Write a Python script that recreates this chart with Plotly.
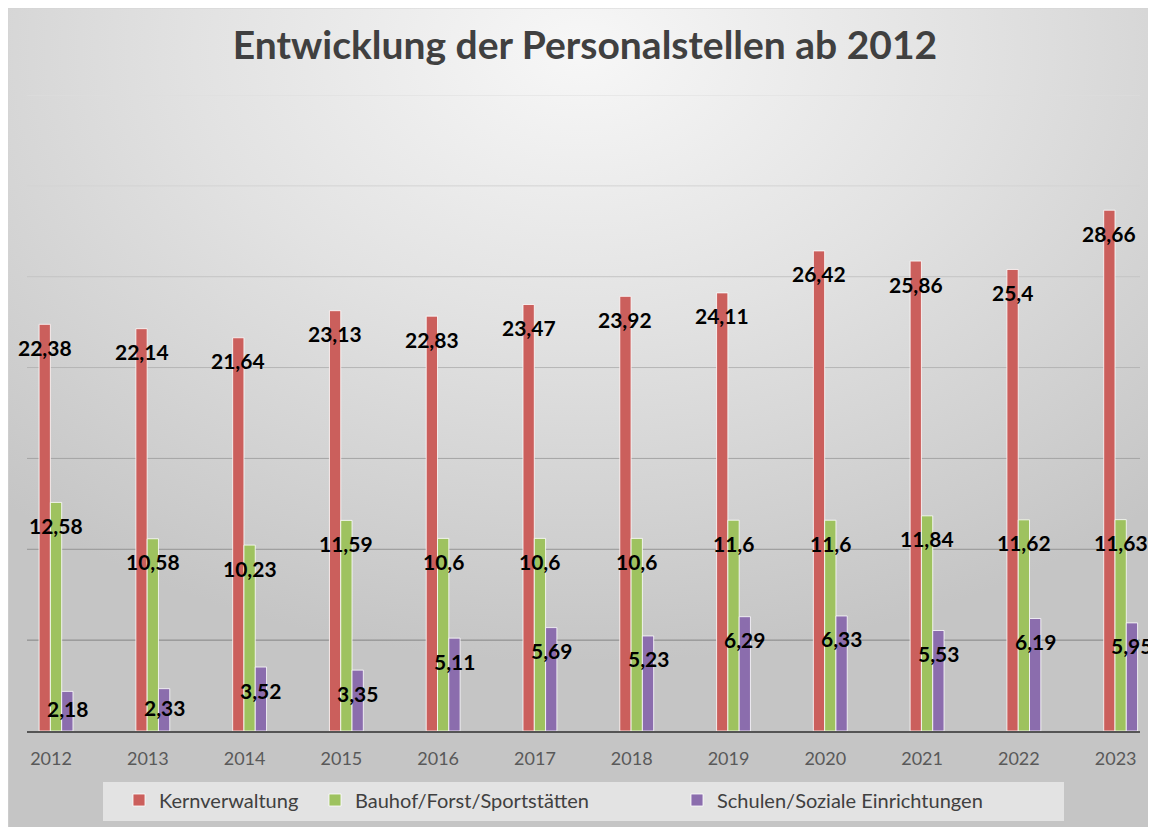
import base64
import plotly.graph_objects as go

years = ["2012", "2013", "2014", "2015", "2016", "2017", "2018", "2019", "2020", "2021", "2022", "2023"]
kernverwaltung = [22.38, 22.14, 21.64, 23.13, 22.83, 23.47, 23.92, 24.11, 26.42, 25.86, 25.4, 28.66]
bauhof = [12.58, 10.58, 10.23, 11.59, 10.6, 10.6, 10.6, 11.6, 11.6, 11.84, 11.62, 11.63]
schulen = [2.18, 2.33, 3.52, 3.35, 5.11, 5.69, 5.23, 6.29, 6.33, 5.53, 6.19, 5.95]
series_names = ["Kernverwaltung", "Bauhof/Forst/Sportstätten", "Schulen/Soziale Einrichtungen"]
colors = ["#CB5F5C", "#9EC25F", "#8B6DAD"]

OFF = 8  # page body margin
W, H = 1156 - OFF, 827 - OFF
# plot area in screen coordinates: 27..1140 x, 95..731 y
ML, MT = 27 - OFF, 95 - OFF
MR, MB = W - (1140 - OFF), H - (731 - OFF)
PW, PH = W - ML - MR, H - MT - MB
YMAX = 35
PPU = PH / YMAX
BARGAP = 0.65


def px_x(sx):
    return (sx - OFF - ML) / PW


def px_y(sy):
    return 1 - (sy - OFF - MT) / PH


xpos = list(range(len(years)))
fig = go.Figure()
all_series = [kernverwaltung, bauhof, schulen]
legends = ["legend", "legend2", "legend3"]
for name, vals, col, lg in zip(series_names, all_series, colors, legends):
    fig.add_trace(go.Bar(
        x=xpos, y=vals, name=name, legend=lg, showlegend=True,
        marker=dict(color=col, line=dict(color="rgba(255,255,255,0.8)", width=1)),
        hoverinfo="y+name",
    ))

# data labels
bw = (1 - BARGAP) / 3
offsets = [-bw, 0, bw]
annotations = []
for vals, off in zip(all_series, offsets):
    for i, v in enumerate(vals):
        txt = ("%g" % v).replace(".", ",")
        shift = -min(23, v * PPU - 23)
        annotations.append(dict(
            x=i + off, y=v, xref="x", yref="y", text=txt, showarrow=False,
            yshift=shift, xanchor="center", yanchor="middle",
            font=dict(family="Lato", size=21, color="#000000", weight="bold"),
        ))

# background gradient
svg = (
    "<svg xmlns='http://www.w3.org/2000/svg' width='%d' height='%d' preserveAspectRatio='none'>"
    "<defs><radialGradient id='g' cx='0.5' cy='0.05' r='0.75'>"
    "<stop offset='0' stop-color='#f7f7f7'/>"
    "<stop offset='0.45' stop-color='#e2e2e2'/>"
    "<stop offset='1' stop-color='#c5c5c5'/>"
    "</radialGradient></defs>"
    "<rect width='%d' height='%d' fill='url(#g)'/></svg>" % (W, H, W, H)
)
src = "data:image/svg+xml;base64," + base64.b64encode(svg.encode()).decode()
images = [dict(
    source=src, xref="paper", yref="paper",
    x=px_x(OFF), y=px_y(OFF), sizex=W / PW, sizey=H / PH,
    xanchor="left", yanchor="top", sizing="stretch", layer="below",
)]

shapes = []
grid_colors = {5: "#858585", 10: "#959595", 15: "#a5a5a5", 20: "#b5b5b5", 25: "#c5c5c5", 30: "#d3d3d3", 35: "#dedede"}
for gy, gc in grid_colors.items():
    shapes.append(dict(type="line", xref="paper", yref="y", x0=0, x1=1, y0=gy, y1=gy,
                       line=dict(color=gc, width=1), layer="below"))
# legend background
shapes.append(dict(type="rect", xref="paper", yref="paper",
                   x0=px_x(103), x1=px_x(1064), y0=px_y(821), y1=px_y(782),
                   fillcolor="#e3e3e3", line=dict(width=0), layer="below"))
# chart border (top / left edge)
shapes.append(dict(type="rect", xref="paper", yref="paper",
                   x0=px_x(OFF), x1=px_x(1160), y0=px_y(840), y1=px_y(OFF),
                   fillcolor="rgba(0,0,0,0)", line=dict(color="#d4d4d4", width=1), layer="below"))

legend_font = dict(family="Lato", size=20, color="#404040")
legend_common = dict(orientation="h", bgcolor="rgba(0,0,0,0)", font=legend_font,
                     yanchor="middle", xanchor="left", y=px_y(800))

fig.update_layout(
    width=W, height=H,
    margin=dict(l=ML, r=MR, t=MT, b=MB, pad=0, autoexpand=False),
    paper_bgcolor="#d8d8d8",
    plot_bgcolor="rgba(0,0,0,0)",
    showlegend=True,
    barmode="group", bargap=BARGAP, bargroupgap=0,
    title=dict(text="<b>Entwicklung der Personalstellen ab 2012</b>",
               x=(585 - OFF) / W, xanchor="center", y=1 - (45 - OFF) / H, yanchor="middle",
               font=dict(family="Lato", size=39, color="#404040")),
    xaxis=dict(range=[-0.30, 11.20], tickmode="array", tickvals=xpos, ticktext=years,
               showgrid=False, zeroline=False, showline=True, linecolor="#555555", linewidth=2,
               ticks="", ticklabelshift=-5, ticklabelstandoff=10,
               tickfont=dict(family="Lato", size=18, color="#595959"), fixedrange=True),
    yaxis=dict(range=[0, YMAX], showgrid=False, zeroline=False, showticklabels=False,
               fixedrange=True),
    legend=dict(x=px_x(119), **legend_common),
    legend2=dict(x=px_x(315), **legend_common),
    legend3=dict(x=px_x(677), **legend_common),
    annotations=annotations,
    images=images,
    shapes=shapes,
)

fig.write_html("out.html")
